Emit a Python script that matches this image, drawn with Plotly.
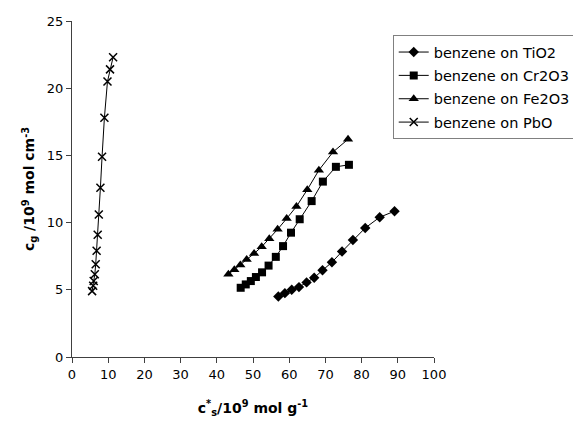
import plotly.graph_objects as go

# Data
tio2_x = [57.0, 58.8, 60.7, 62.7, 64.8, 66.9, 69.2, 71.8, 74.6, 77.6, 81.0, 85.0, 89.1]
tio2_y = [4.5, 4.75, 5.0, 5.2, 5.55, 5.9, 6.45, 7.05, 7.85, 8.7, 9.6, 10.4, 10.85]

cr2o3_x = [46.6, 48.0, 49.4, 50.8, 52.5, 54.3, 56.3, 58.3, 60.5, 62.9, 66.2, 69.3, 72.9, 76.5]
cr2o3_y = [5.15, 5.4, 5.65, 5.95, 6.3, 6.8, 7.45, 8.25, 9.25, 10.25, 11.6, 13.05, 14.15, 14.3]

fe2o3_x = [43.2, 44.85, 46.5, 48.25, 50.3, 52.4, 54.5, 56.8, 59.3, 62.0, 65.0, 68.2, 72.1, 76.25]
fe2o3_y = [6.15, 6.5, 6.85, 7.25, 7.7, 8.2, 8.8, 9.5, 10.3, 11.2, 12.45, 13.9, 15.25, 16.2]

pbo_x = [5.55, 5.85, 6.0, 6.3, 6.55, 6.8, 7.1, 7.4, 7.85, 8.3, 8.95, 9.8, 10.5, 11.35]
pbo_y = [4.9, 5.3, 5.65, 6.15, 6.9, 7.9, 9.1, 10.6, 12.6, 14.9, 17.8, 20.5, 21.4, 22.3]

names = ["benzene on TiO2", "benzene on Cr2O3", "benzene on Fe2O3", "benzene on PbO"]

x_ticks = list(range(0, 101, 10))
y_ticks = list(range(0, 26, 5))

fig = go.Figure()
fig.add_trace(go.Scatter(x=tio2_x, y=tio2_y, name=names[0], legendgroup="a", mode="lines+markers",
                         line=dict(color="black", width=1),
                         marker=dict(symbol="diamond", size=8, color="black")))
fig.add_trace(go.Scatter(x=cr2o3_x, y=cr2o3_y, name=names[1], legendgroup="b", mode="lines+markers",
                         line=dict(color="black", width=1),
                         marker=dict(symbol="square", size=8, color="black")))
fig.add_trace(go.Scatter(x=fe2o3_x, y=fe2o3_y, name=names[2], legendgroup="c", mode="lines+markers",
                         line=dict(color="black", width=1),
                         marker=dict(symbol="triangle-up", size=9, color="black")))
fig.add_trace(go.Scatter(x=pbo_x, y=pbo_y, name=names[3], legendgroup="d", mode="lines+markers",
                         line=dict(color="black", width=1),
                         marker=dict(symbol="x-thin-open", size=8, color="black",
                                     line=dict(color="black", width=1.5))))

fig.update_layout(
    width=573, height=424,
    margin=dict(l=71.5, r=138.5, t=21, b=67, autoexpand=False),
    paper_bgcolor="white", plot_bgcolor="white",
    font=dict(family="DejaVu Sans", size=13, color="black"),
    showlegend=True,
    legend=dict(x=0.886, y=0.958, xanchor="left", yanchor="top",
                bgcolor="white", bordercolor="#808080", borderwidth=1,
                font=dict(size=14.5, family="DejaVu Sans"),
                traceorder="grouped", tracegroupgap=1.5, itemwidth=30),
    xaxis=dict(range=[0, 100], tickvals=x_ticks, showgrid=False, zeroline=False,
               showline=True, linecolor="#404040", linewidth=1,
               ticks="outside", ticklen=5, tickcolor="#404040",
               title=dict(text="<b>c<sup>*</sup><sub>s</sub>/10<sup>9</sup> mol g<sup>-1</sup></b>",
                          font=dict(size=14), standoff=22)),
    yaxis=dict(range=[0, 25], tickvals=y_ticks, showgrid=False, zeroline=False,
               showline=True, linecolor="#404040", linewidth=1,
               ticks="outside", ticklen=5, tickcolor="#404040",
               title=dict(text="<b>c<sub>g</sub> /10<sup>9</sup> mol cm<sup>-3</sup></b>",
                          font=dict(size=14), standoff=8)),
)

fig.write_html("out.html")
